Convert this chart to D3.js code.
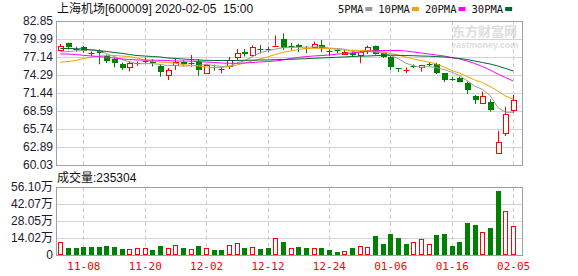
<!DOCTYPE html>
<html>
<head>
<meta charset="utf-8">
<script src="https://cdn.jsdelivr.net/npm/d3@7"></script>
<style>
body { margin: 0; background: #fff; }
text { font-family: "Liberation Sans", Arial, "Noto Sans CJK SC", sans-serif; }
</style>
</head>
<body>
<div id="chart"></div>
<script>
// ----------------------------------------------
// Data
// ----------------------------------------------
var dates = ["11-05","11-06","11-07","11-08","11-11","11-12","11-13","11-14","11-15","11-18",
    "11-19","11-20","11-21","11-22","11-25","11-26","11-27","11-28","11-29","12-02",
    "12-03","12-04","12-05","12-06","12-09","12-10","12-11","12-12","12-13","12-16",
    "12-17","12-18","12-19","12-20","12-23","12-24","12-25","12-26","12-27","12-30",
    "12-31","01-02","01-03","01-06","01-07","01-08","01-09","01-10","01-13","01-14",
    "01-15","01-16","01-17","01-20","01-21","01-22","01-23","02-03","02-04","02-05"];

var opens = [78.37,79.36,78.44,78.73,77.70,78.06,77.38,76.83,76.04,75.59,
    76.10,76.51,76.54,75.75,74.37,75.99,76.31,76.15,76.43,74.69,
    75.64,75.09,75.72,77.02,77.89,77.46,78.44,78.44,78.92,80.00,
    78.86,78.97,78.60,78.68,79.08,78.10,78.29,77.62,77.70,77.46,
    78.21,78.92,77.78,77.07,75.40,75.05,75.75,75.64,76.12,76.04,
    74.56,73.69,73.86,72.98,70.96,69.81,70.06,62.01,65.02,68.79];
var highs = [79.21,79.41,78.78,78.89,78.05,78.37,77.54,76.99,76.27,76.43,
    76.40,77.07,76.78,76.04,75.40,76.94,76.56,77.46,76.83,75.96,
    75.93,75.56,77.15,78.41,78.41,78.97,79.05,78.78,80.55,80.87,
    79.36,79.28,78.89,79.60,79.84,78.37,78.52,78.25,78.25,78.25,
    78.97,78.97,77.89,77.30,75.40,75.48,75.96,75.91,76.31,76.24,
    74.61,74.02,74.05,73.23,71.12,71.65,70.44,65.47,69.27,71.12];
var lows = [78.05,78.33,77.99,77.83,77.30,75.99,76.19,75.48,75.09,74.85,
    75.72,76.15,75.64,74.02,73.50,75.09,75.77,75.61,74.18,74.66,
    74.97,74.56,75.24,76.62,77.22,77.22,77.73,77.94,78.92,78.25,
    78.18,77.94,77.73,78.65,77.94,77.30,77.73,77.51,77.19,76.15,
    77.62,77.51,76.99,75.09,74.77,74.61,75.40,74.82,75.72,74.45,
    73.18,73.34,73.10,71.28,69.70,69.81,68.48,62.01,64.63,68.35];
var closes = [78.94,78.68,78.38,78.05,77.73,77.73,76.56,76.12,75.45,76.15,
    76.16,76.56,76.15,74.85,75.09,76.40,76.04,76.35,75.16,75.88,
    75.56,75.24,76.67,77.73,77.51,78.73,78.38,78.38,78.97,78.65,
    78.79,78.65,78.41,79.16,78.68,77.99,78.22,77.94,77.34,77.94,
    78.73,77.73,77.15,75.56,75.35,75.09,75.69,75.88,76.04,74.66,
    73.50,73.63,73.23,71.92,70.33,70.96,68.86,63.68,68.11,70.33];

var volumes = [104800,60200,60200,68500,68500,68500,74300,68500,52000,52000,
    57800,57800,43700,74300,60200,80000,60200,52000,74300,57800,
    41300,41300,80000,96500,57800,68500,49500,57800,137800,107300,
    57800,66000,57800,57800,57800,43700,24800,30500,57800,74300,
    66000,156800,90800,173300,140300,90800,104800,129500,88300,165000,
    173300,74300,107300,264000,247500,187300,222800,528000,363000,235304];
// 1 = red (up) bar, 0 = green bar
var volUp = [1,0,0,0,0,0,0,0,0,1, 1,1,0,0,1,1,0,1,0,1,
    0,0,1,1,0,1,0,0,1,0, 1,0,0,1,0,0,0,1,0,1,
    1,0,0,0,0,0,1,1,1,0, 0,0,0,0,0,1,0,0,1,1];

var ma5 = [77.94,78.02,78.10,78.18,78.35,78.11,77.68,77.24,76.72,76.40,
    76.08,76.08,76.10,75.97,75.77,75.81,75.70,75.75,75.81,75.97,
    75.80,75.64,75.70,76.21,76.54,77.18,77.81,78.14,78.40,78.62,
    78.64,78.70,78.70,78.73,78.75,78.57,78.49,78.40,78.03,77.89,
    78.03,77.94,77.78,77.41,76.91,76.18,75.77,75.51,75.61,75.47,
    75.15,74.74,74.21,73.39,72.52,72.01,71.06,69.14,68.38,68.38];
var ma10 = [76.31,76.43,76.59,76.91,77.07,77.30,77.38,77.38,77.30,77.22,
    76.99,76.67,76.46,76.35,76.27,76.15,75.96,75.80,75.72,75.56,
    75.48,75.48,75.64,75.88,76.19,76.51,76.83,77.15,77.54,77.86,
    78.10,78.33,78.49,78.52,78.52,78.49,78.37,78.25,78.21,78.18,
    78.18,78.10,77.94,77.70,77.46,77.15,76.83,76.59,76.35,76.04,
    75.56,75.01,74.61,74.05,73.50,73.10,72.47,71.76,70.97,70.44];
var ma20 = [77.62,77.62,77.54,77.41,77.30,77.22,77.10,76.99,76.83,76.75,
    76.67,76.67,76.64,76.62,76.59,76.51,76.51,76.48,76.43,76.35,
    76.27,76.19,76.15,76.15,76.19,76.27,76.35,76.43,76.51,76.67,
    76.91,77.07,77.22,77.30,77.38,77.46,77.59,77.70,77.78,77.94,
    78.05,78.13,78.18,78.18,78.18,78.10,77.94,77.78,77.62,77.46,
    77.30,77.07,76.83,76.51,76.12,75.64,75.09,74.45,73.90,73.34];
var ma30 = [78.49,78.49,78.46,78.41,78.25,78.18,78.02,77.86,77.73,77.54,
    77.38,77.30,77.22,77.15,76.99,76.91,76.83,76.75,76.67,76.62,
    76.59,76.59,76.59,76.59,76.62,76.64,76.67,76.67,76.72,76.75,
    76.78,76.83,76.88,76.94,76.99,77.04,77.10,77.15,77.22,77.27,
    77.30,77.35,77.41,77.43,77.41,77.38,77.35,77.30,77.27,77.22,
    77.15,77.04,76.91,76.75,76.51,76.27,76.04,75.72,75.33,74.93];

var priceTicks = [82.85,79.99,77.14,74.29,71.44,68.59,65.74,62.89,60.03];
var volTicks = [0,140200,280500,420700,561000];
var volTickLabels = ["0","14.02万","28.05万","42.07万","56.10万"];
var dateTicks = ["11-08","11-20","12-02","12-12","12-24","01-06","01-16","02-05"];

var maLabels = ["5PMA","10PMA","20PMA","30PMA"];
var maColors = ["#999999","#f5a200","#ff00ff","#006633"];
var maSeries = [ma5, ma10, ma20, ma30];

// ----------------------------------------------
// Basic setup
// ----------------------------------------------
var svgWidth = 578, svgHeight = 276;
var left = 56, right = 522;
var priceTop = 21, priceBottom = 165;
var volTop = 187, volBottom = 255;
var red = "#ff0000", green = "#008000";

var svg = d3.select("#chart").append("svg")
    .attr("width", svgWidth)
    .attr("height", svgHeight);

var x = d3.scalePoint().domain(dates).range([60.3, 513.1]);
var y = d3.scaleLinear().domain([60.03, 82.85]).range([priceBottom, priceTop]);
var yVol = d3.scaleLinear().domain([0, 561000]).range([volBottom, volTop]);

function px(d) { return Math.round(x(d)) + 0.5; }

// watermark
svg.append("text").attr("x", 452).attr("y", 36)
    .attr("font-size", 13).attr("font-weight", "bold").attr("fill", "#dddddd")
    .text("东方财富网");
svg.append("text").attr("x", 451).attr("y", 48)
    .attr("font-size", 9).attr("font-weight", "bold").attr("fill", "#dddddd")
    .text("eastmoney.com");

// ----------------------------------------------
// Grid lines
// ----------------------------------------------
svg.selectAll(".hgrid").data(priceTicks.slice(1, -1)).enter()
    .append("line")
    .attr("x1", left).attr("x2", right)
    .attr("y1", d => Math.round(y(d)) + 0.5).attr("y2", d => Math.round(y(d)) + 0.5)
    .attr("stroke", "#d3d3d3");
svg.selectAll(".vgridH").data(volTicks.slice(1, -1)).enter()
    .append("line")
    .attr("x1", left).attr("x2", right)
    .attr("y1", d => Math.round(yVol(d)) + 0.5).attr("y2", d => Math.round(yVol(d)) + 0.5)
    .attr("stroke", "#d3d3d3");

[[priceTop, priceBottom], [volTop, volBottom]].forEach(function (r) {
    svg.selectAll(null).data(dateTicks).enter()
        .append("line")
        .attr("x1", px).attr("x2", px)
        .attr("y1", r[0]).attr("y2", r[1])
        .attr("stroke", "#cccccc")
        .attr("stroke-dasharray", "4,3");
});

// borders
svg.append("rect").attr("x", left + 0.5).attr("y", priceTop + 0.5)
    .attr("width", right - left).attr("height", priceBottom - priceTop)
    .attr("fill", "none").attr("stroke", "#a0a0a0");
svg.append("rect").attr("x", left + 0.5).attr("y", volTop + 0.5)
    .attr("width", right - left).attr("height", volBottom - volTop)
    .attr("fill", "none").attr("stroke", "#a0a0a0");

// ----------------------------------------------
// Axes labels
// ----------------------------------------------
var yAxis = svg.append("g")
    .attr("transform", `translate(${left},0)`)
    .call(d3.axisLeft(y).tickValues(priceTicks).tickFormat(d3.format(".2f")).tickSize(0).tickPadding(3));
var volAxis = svg.append("g")
    .attr("transform", `translate(${left},0)`)
    .call(d3.axisLeft(yVol).tickValues(volTicks).tickFormat((d, i) => volTickLabels[i]).tickSize(0).tickPadding(3));
[yAxis, volAxis].forEach(function (g) {
    g.select(".domain").remove();
    g.selectAll("text").attr("font-size", 12).attr("fill", "#1a1a2e")
        .style("font-family", '"Liberation Sans", Arial, "Noto Sans CJK SC", sans-serif');
});

var xAxis = svg.append("g")
    .attr("transform", `translate(0,${volBottom})`)
    .call(d3.axisBottom(x).tickValues(dateTicks).tickSize(0).tickPadding(7));
xAxis.select(".domain").remove();
xAxis.selectAll("text").attr("font-size", 11).attr("fill", red)
    .style("font-family", '"DejaVu Sans Mono", monospace');

// ----------------------------------------------
// Candles
// ----------------------------------------------
var candles = svg.append("g").selectAll("g")
    .data(dates).enter().append("g");

candles.append("line")
    .attr("x1", px).attr("x2", px)
    .attr("y1", (d, i) => y(highs[i])).attr("y2", (d, i) => y(lows[i]))
    .attr("stroke", (d, i) => closes[i] >= opens[i] ? red : green);

candles.each(function (d, i) {
    var g = d3.select(this);
    var up = closes[i] >= opens[i];
    var top = y(Math.max(opens[i], closes[i]));
    var bot = y(Math.min(opens[i], closes[i]));
    var cx = Math.round(x(d));
    if (bot - top < 1.5) {
        var yy = Math.round((top + bot) / 2) + 0.5;
        g.append("line").attr("x1", cx - 2.5).attr("x2", cx + 3.5)
            .attr("y1", yy).attr("y2", yy)
            .attr("stroke", up ? red : green);
    } else if (up) {
        g.append("rect").attr("x", cx - 2 + 0.5).attr("width", 5)
            .attr("y", Math.round(top) + 0.5).attr("height", Math.max(1, Math.round(bot - top)))
            .attr("fill", "#fff").attr("stroke", red);
    } else {
        g.append("rect").attr("x", cx - 2).attr("width", 6)
            .attr("y", Math.round(top)).attr("height", Math.max(1, Math.round(bot - top)))
            .attr("fill", green);
    }
});

// moving averages
maSeries.forEach(function (s, k) {
    var line = d3.line().x((d, i) => x(dates[i])).y(d => y(d));
    svg.append("path").datum(s)
        .attr("d", line)
        .attr("fill", "none")
        .attr("stroke", maColors[k])
        .attr("stroke-width", 1);
});

// ----------------------------------------------
// Volume bars
// ----------------------------------------------
svg.append("g").selectAll("rect")
    .data(volumes).enter().append("rect")
    .each(function (v, i) {
        var r = d3.select(this);
        var cx = Math.round(x(dates[i]));
        var top = Math.round(yVol(v));
        if (volUp[i]) {
            r.attr("x", cx - 2 + 0.5).attr("width", 4)
                .attr("y", top + 0.5).attr("height", volBottom - top - 1)
                .attr("fill", "#fff").attr("stroke", red);
        } else {
            r.attr("x", cx - 2).attr("width", 5)
                .attr("y", top).attr("height", volBottom - top)
                .attr("fill", green);
        }
    });

// ----------------------------------------------
// Title, legend, volume label
// ----------------------------------------------
svg.append("text").attr("x", 57).attr("y", 13)
    .attr("font-size", 12).attr("fill", "#111")
    .attr("xml:space", "preserve")
    .text("上海机场[600009] 2020-02-05  15:00");

svg.append("text").attr("x", 57).attr("y", 182)
    .attr("font-size", 12).attr("fill", "#111")
    .text("成交量:" + volumes[volumes.length - 1]);

var legendX = 338;
maLabels.forEach(function (lab, k) {
    var t = svg.append("text").attr("x", legendX).attr("y", 13)
        .attr("font-size", 10.5).attr("fill", "#111")
        .style("font-family", '"DejaVu Sans Mono", monospace')
        .text(lab);
    var w = t.node().getComputedTextLength();
    svg.append("rect").attr("x", legendX + w + 2).attr("y", 7)
        .attr("width", 7).attr("height", 4)
        .attr("fill", maColors[k]);
    legendX += w + 2 + 7 + 6;
});
</script>
</body>
</html>
